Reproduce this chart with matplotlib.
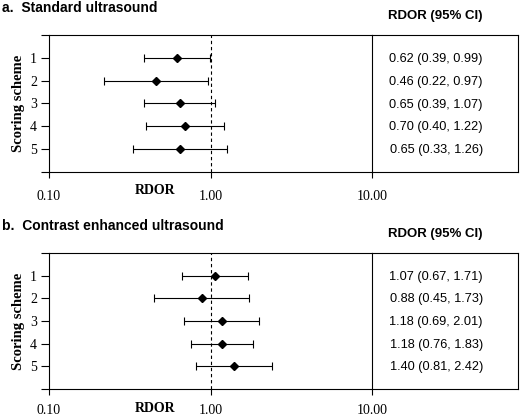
import matplotlib
matplotlib.use('Agg')
import matplotlib.pyplot as plt
import numpy as np

# panel a: standard ultrasound
schemes = [1, 2, 3, 4, 5]
rdor_a = [0.62, 0.46, 0.65, 0.70, 0.65]
low_a = [0.39, 0.22, 0.39, 0.40, 0.33]
high_a = [0.99, 0.97, 1.07, 1.22, 1.26]

# panel b: contrast enhanced ultrasound
rdor_b = [1.07, 0.88, 1.18, 1.18, 1.40]
low_b = [0.67, 0.45, 0.69, 0.76, 0.81]
high_b = [1.71, 1.73, 2.01, 1.83, 2.42]

titles = ['a.  Standard ultrasound', 'b.  Contrast enhanced ultrasound']
xtick_vals = [0.1, 1.0, 10.0]
xtick_labels = ['0.10', '1.00', '10.00']

serif = ['Liberation Serif', 'DejaVu Serif']
sans = ['Liberation Sans', 'DejaVu Sans']
lw = 0.8

W, H = 525, 418
fig = plt.figure(figsize=(W / 100, H / 100), dpi=100)


def px_axes(x0, y0, x1, y1):
    # axes from pixel box (top-left origin)
    return fig.add_axes([x0 / W, 1 - y1 / H, (x1 - x0) / W, (y1 - y0) / H])


def panel(top, bottom, title, rdor, low, high, xpad):
    ax = px_axes(49, top, 372, bottom)
    est = np.array(rdor)
    err = np.array([est - np.array(low), np.array(high) - est])
    ax.errorbar(est, schemes, xerr=err, fmt='D', color='black', ms=4.2,
                elinewidth=lw, capsize=2.6, capthick=lw)
    ax.axvline(1.0, color='black', lw=lw, ls=(0, (3, 2.5)))
    ax.set_xscale('log')
    ax.set_xlim(0.1, 10)
    ax.set_ylim(6, 0)
    ax.set_yticks(range(0, 7))
    ax.set_yticklabels([''] + [str(s) for s in schemes] + [''],
                       family=serif, fontsize=10)
    ax.set_xticks(xtick_vals)
    ax.set_xticklabels(xtick_labels, family=serif, fontsize=10)
    ax.xaxis.set_minor_locator(matplotlib.ticker.NullLocator())
    ax.tick_params(axis='y', direction='out', length=5.5, width=lw, pad=3)
    ax.tick_params(axis='x', direction='out', length=4, width=lw, pad=xpad)
    ax.spines['right'].set_visible(False)
    for s in ['left', 'top', 'bottom']:
        ax.spines[s].set_linewidth(lw)
    ax.set_ylabel('Scoring scheme', family=serif, fontsize=10.5,
                  fontweight='bold', labelpad=4)
    fig.text(155 / W, 1 - (bottom + 19) / H, 'RDOR', ha='center',
             va='center', family=serif, fontsize=10, fontweight='bold')

    tab = px_axes(372, top, 518, bottom)
    tab.set_xlim(0, 1)
    tab.set_ylim(6, 0)
    tab.set_xticks([])
    tab.set_yticks([])
    for s in tab.spines.values():
        s.set_linewidth(lw)
    for i in range(len(schemes)):
        label = '%.2f (%.2f, %.2f)' % (rdor[i], low[i], high[i])
        tab.text(0.44, schemes[i] + 0.05, label, ha='center', va='center',
                 family=sans, fontsize=9.2)
    fig.text(435 / W, 1 - (top - 19) / H, 'RDOR (95% CI)', ha='center',
             va='center', family=sans, fontsize=9.5, fontweight='bold')
    fig.text(2 / W, 1 - (top - 27) / H, title, ha='left', va='center',
             family=sans, fontsize=10, fontweight='bold')


panel(35, 172, titles[0], rdor_a, low_a, high_a, 9)
panel(253, 389, titles[1], rdor_b, low_b, high_b, 7)

fig.savefig('out.png', dpi=100)
